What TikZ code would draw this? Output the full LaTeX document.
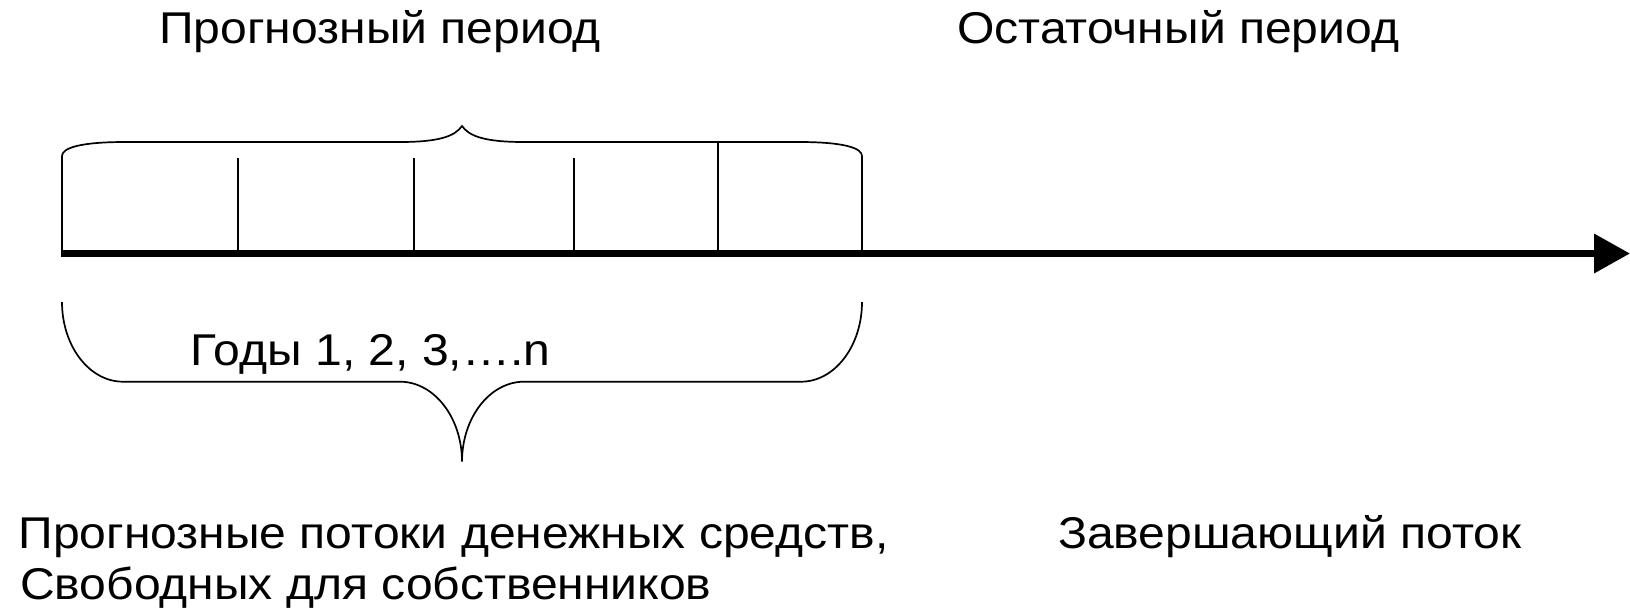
\documentclass[tikz,border=0pt]{standalone}
\usepackage{fontspec}
\setmainfont[FakeStretch=1.08]{Liberation Sans}
\usetikzlibrary{arrows.meta}
\begin{document}
\begin{tikzpicture}[x=1pt,y=-1pt,
  thin line/.style={line width=1.7pt,line cap=butt},
  axis line/.style={line width=7pt,-{Triangle[length=36pt,width=38pt]}},
  lbl/.style={anchor=base west,inner sep=0pt,font=\fontsize{44.5}{51}\selectfont}]
\useasboundingbox (0,0) rectangle (1630,614);
% axis
\coordinate (axS) at (61,253.5);
\coordinate (axE) at (1630,253.5);
\draw[axis line] (axS) -- (axE);
% top brace with end ticks
\draw[thin line] (62,253.5) -- (62,156) .. controls (62,148) and (80,142) .. (125,142)
  -- (400,142) .. controls (440,142) and (455,136) .. (462,126)
  .. controls (469,136) and (484,142) .. (524,142)
  -- (799,142) .. controls (844,142) and (862,148) .. (862,156) -- (862,253.5);
% inner ticks
\foreach \x/\t in {238/158,414/158,574/158,718/142}
  \draw[thin line] (\x,\t) -- (\x,253.5);
% bottom brace
\draw[thin line] (62,302) .. controls (62,346) and (89.3,381.7) .. (123,381.7)
  -- (400,381.7) .. controls (434.1,381.7) and (462,417.5) .. (462,461.7)
  .. controls (462,417.5) and (489.9,381.7) .. (524,381.7)
  -- (801,381.7) .. controls (834.7,381.7) and (862,346) .. (862,302);
% labels
\node[lbl] (forecast) at (159,43.3) {Прогнозный период};
\node[lbl] (residual) at (957,43.3) {Остаточный период};
\node[lbl] (years) at (190.7,365) {Годы 1, 2, 3,….n};
\node[lbl] (flows1) at (18.3,548.3) {Прогнозные потоки денежных средств,};
\node[lbl] (flows2) at (20,599) {Свободных для собственников};
\node[lbl] (final) at (1058,548.3) {Завершающий поток};
\end{tikzpicture}
\end{document}
